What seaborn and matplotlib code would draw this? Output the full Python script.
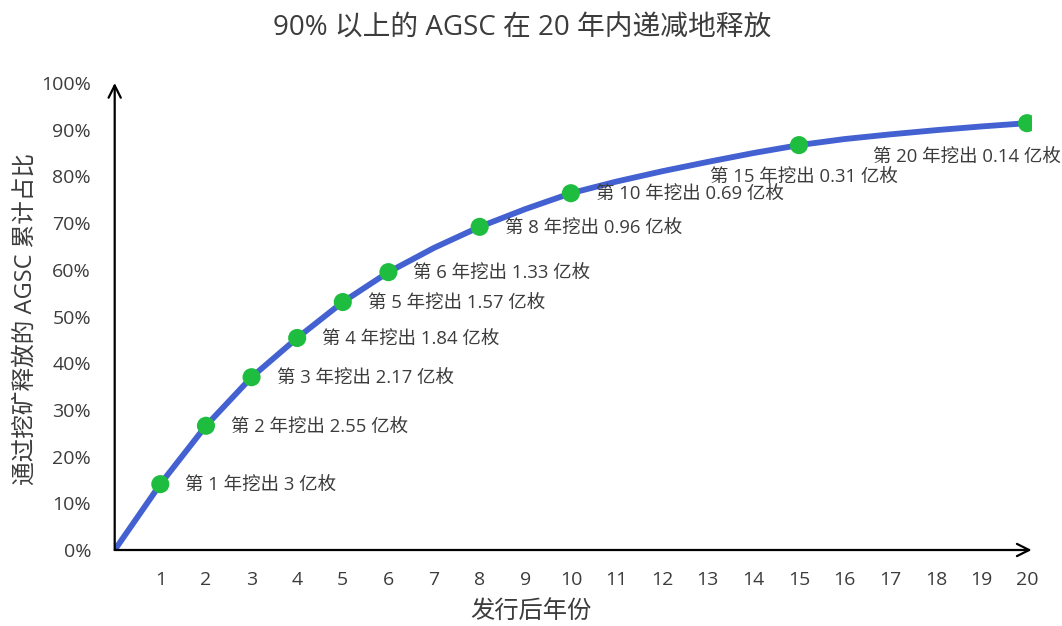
import matplotlib
matplotlib.use("Agg")
import pandas as pd
import matplotlib.pyplot as plt
import seaborn as sns

# cumulative share of AGSC released by mining (%)
years = list(range(0, 21))
cumulative = [0, 14.1, 26.6, 37.0, 45.4, 53.1, 59.5, 64.7, 69.2, 73.0, 76.4,
              78.9, 81.1, 83.1, 85.0, 86.7, 88.0, 89.0, 89.9, 90.7, 91.4]

# highlighted years and how much was mined in each (亿枚)
marked_years = [1, 2, 3, 4, 5, 6, 8, 10, 15, 20]
mined = ["3", "2.55", "2.17", "1.84", "1.57", "1.33", "0.96", "0.69", "0.31", "0.14"]

title = "90% 以上的 AGSC 在 20 年内递减地释放"
xlabel = "发行后年份"
ylabel = "通过挖矿释放的 AGSC 累计占比"

sns.set_theme(style="white")
plt.rcParams["font.family"] = ["Open Sans", "Noto Sans CJK SC", "DejaVu Sans"]
TEXT = "#3c3c3c"

df = pd.DataFrame({"year": years, "share": [v / 100 for v in cumulative]})
pts = df[df["year"].isin(marked_years)].reset_index(drop=True)

fig = plt.figure(figsize=(10.62, 6.26), dpi=100)
ax = fig.add_axes([0.108, 0.1214, 0.8634, 0.746])

sns.lineplot(data=df, x="year", y="share", ax=ax, color="#4361d0", lw=4.2,
             solid_capstyle="round")
sns.scatterplot(data=pts, x="year", y="share", ax=ax, color="#1fbd3f", s=170,
                edgecolor="none", zorder=5)

# label offsets in pixels (most sit to the right, last two tucked below-left)
offsets = {15: (-89, -33), 20: (-154, -35)}
for (_, row), amount in zip(pts.iterrows(), mined):
    dx, dy = offsets.get(row["year"], (25, -2))
    ax.annotate(f"第 {int(row['year'])} 年挖出 {amount} 亿枚",
                xy=(row["year"], row["share"]), xytext=(dx, dy),
                textcoords="offset pixels", ha="left", va="center",
                fontsize=13.3, color=TEXT)

ax.set_xlim(0, 20.1)
ax.set_ylim(0, 1.0)
ax.set_xticks(range(1, 21))
ax.set_yticks([i / 10 for i in range(11)])
ax.set_yticklabels([f"{i * 10}%" for i in range(11)])
ax.tick_params(axis="both", length=0, labelsize=14, labelcolor=TEXT)
ax.tick_params(axis="x", pad=15)
ax.tick_params(axis="y", pad=17)
ax.set_xlabel("")
ax.set_ylabel("")
for s in ax.spines.values():
    s.set_visible(False)

# axis arrows
arrow = dict(arrowstyle="->", lw=1.6, color="black", mutation_scale=22,
             shrinkA=0, shrinkB=0)
ax.annotate("", xy=(1.0, 0), xytext=(0, 0), xycoords="axes fraction",
            arrowprops=arrow, annotation_clip=False)
ax.annotate("", xy=(0, 1.0), xytext=(0, 0), xycoords="axes fraction",
            arrowprops=arrow, annotation_clip=False)

fig.text(0.492, 0.955, title, ha="center", va="center", fontsize=20, color=TEXT)
fig.text(0.5, 0.021, xlabel, ha="center", va="center", fontsize=17.5, color=TEXT)
fig.text(0.024, 0.49, ylabel, ha="center", va="center", rotation=90,
         fontsize=17, color=TEXT)

plt.savefig("out.png", dpi=100)
plt.close()
print("Saved: out.png")
